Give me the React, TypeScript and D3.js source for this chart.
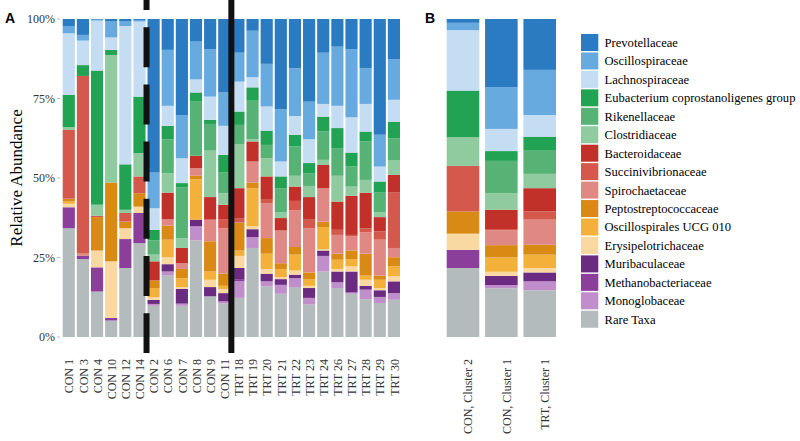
import React from "react";
import * as d3 from "d3";

const taxa = [
  "Prevotellaceae",
  "Oscillospiraceae",
  "Lachnospiraceae",
  "Eubacterium coprostanoligenes group",
  "Rikenellaceae",
  "Clostridiaceae",
  "Bacteroidaceae",
  "Succinivibrionaceae",
  "Spirochaetaceae",
  "Peptostreptococcaceae",
  "Oscillospirales UCG 010",
  "Erysipelotrichaceae",
  "Muribaculaceae",
  "Methanobacteriaceae",
  "Monoglobaceae",
  "Rare Taxa",
];

const taxaColors = [
  "#2A7BC1",
  "#67AADF",
  "#C4DDF3",
  "#22A353",
  "#57B276",
  "#8FCB9F",
  "#C1312A",
  "#D5584D",
  "#E08883",
  "#D98A14",
  "#F3B13B",
  "#FAD8A2",
  "#6A2B80",
  "#8B3F9A",
  "#C08FCB",
  "#B4BBBC",
];

const samplesA = [
  "CON 1", "CON 3", "CON 4", "CON 10", "CON 12", "CON 14",
  "CON 2", "CON 6", "CON 7", "CON 8", "CON 9", "CON 11",
  "TRT 18", "TRT 19", "TRT 20", "TRT 21", "TRT 22", "TRT 23",
  "TRT 24", "TRT 26", "TRT 27", "TRT 28", "TRT 29", "TRT 30",
];

// rows per sample, columns in taxa order (percent)
const abundanceA = [
  [2.2, 2.3, 19.4, 10.1, 0, 0.9, 0, 21.6, 0, 0.9, 0.7, 1.1, 0, 6.6, 0, 34.2],
  [5.0, 1.8, 7.7, 3.4, 0, 0, 0, 55.7, 0.9, 0, 0, 0, 0, 1.0, 0, 24.5],
  [0.2, 0.3, 15.7, 42.2, 0, 3.5, 0, 0.4, 0, 10.5, 0, 5.3, 0, 7.6, 0, 14.3],
  [0.8, 5.0, 3.9, 1.6, 0, 40.1, 0, 0, 0, 24.8, 0, 17.8, 0, 0.8, 0, 5.2],
  [0.8, 1.4, 43.5, 14.3, 0, 1.0, 0, 2.7, 0, 2.1, 0, 3.4, 0, 9.1, 0, 21.7],
  [0.3, 0.5, 23.6, 17.8, 0, 7.3, 0, 5.3, 0, 4.2, 0, 2.0, 0, 9.5, 0, 29.5],
  [48.3, 11.2, 6.8, 3.3, 4.5, 2.1, 6.0, 0, 0, 2.4, 2.9, 0.8, 1.3, 0, 0.6, 9.8],
  [9.7, 17.6, 6.3, 4.2, 10.7, 6.1, 8.3, 0, 2.1, 4.4, 5.5, 2.2, 2.3, 0, 1.3, 19.3],
  [30.2, 13.6, 7.8, 1.3, 16.0, 3.1, 4.8, 0, 1.8, 2.9, 2.8, 0.6, 4.6, 0, 0.7, 9.8],
  [7.1, 11.9, 4.1, 2.9, 17.0, 0, 3.9, 0, 2.4, 1.1, 12.7, 0, 2.1, 0, 4.4, 30.4],
  [9.5, 14.9, 7.3, 1.3, 8.4, 14.6, 7.1, 0, 6.8, 9.5, 2.6, 2.3, 2.9, 0, 0, 12.8],
  [23.1, 10.5, 9.1, 5.6, 6.5, 3.6, 4.7, 2.7, 14.3, 3.8, 1.0, 1.3, 2.6, 0, 0.7, 10.5],
  [10.6, 9.1, 9.4, 4.2, 6.0, 13.9, 9.4, 1.4, 0, 8.8, 1.7, 3.8, 3.5, 0.7, 5.2, 12.3],
  [3.7, 14.6, 3.2, 4.2, 12.1, 0.7, 6.3, 0, 6.6, 1.8, 12.0, 0.9, 2.5, 0, 3.4, 28.0],
  [14.1, 13.4, 7.6, 4.5, 4.2, 5.7, 7.1, 1.3, 11.0, 4.9, 4.8, 1.5, 2.4, 0, 1.6, 15.9],
  [28.4, 16.4, 4.7, 3.7, 7.6, 1.8, 3.9, 0, 10.3, 1.8, 2.6, 0.6, 1.8, 0, 2.8, 13.6],
  [15.5, 15.0, 5.9, 3.7, 9.2, 3.4, 4.5, 3.0, 11.5, 2.4, 5.0, 1.3, 1.1, 0, 2.8, 15.7],
  [26.0, 11.8, 7.5, 3.2, 4.0, 3.5, 7.1, 2.7, 13.9, 2.1, 2.1, 0.7, 3.1, 0, 2.1, 10.2],
  [10.6, 16.1, 4.0, 4.7, 8.9, 1.6, 7.3, 0, 10.5, 1.7, 7.0, 0.4, 1.7, 0, 4.9, 20.6],
  [8.7, 18.6, 7.0, 6.3, 8.7, 8.1, 8.9, 1.6, 5.9, 1.9, 2.9, 0.8, 3.4, 0, 1.8, 15.4],
  [9.5, 21.4, 11.1, 4.4, 6.3, 2.9, 12.3, 0.5, 4.4, 2.7, 2.3, 1.6, 6.6, 0, 0.4, 13.6],
  [15.5, 11.2, 8.7, 3.1, 12.1, 4.0, 11.2, 1.3, 6.7, 6.9, 1.3, 1.9, 1.2, 0, 3.0, 11.9],
  [36.4, 10.0, 4.7, 3.5, 6.2, 1.5, 4.5, 2.6, 11.3, 1.3, 2.6, 0.7, 2.1, 0, 1.9, 10.7],
  [12.7, 12.7, 6.9, 5.2, 7.0, 4.5, 5.6, 17.4, 2.9, 2.9, 3.1, 1.6, 3.7, 0, 2.1, 11.7],
];

const clustersB = ["CON, Cluster 2", "CON, Cluster 1", "TRT, Cluster 1"];

const abundanceB = [
  [1.2, 2.3, 19.0, 14.7, 0, 9.0, 0, 14.3, 0, 7.0, 0, 5.1, 0, 5.7, 0, 21.7],
  [21.5, 13.2, 7.0, 3.1, 10.2, 5.2, 6.1, 0.4, 4.7, 3.9, 4.5, 1.3, 2.9, 0, 1.0, 15.4],
  [16.0, 14.2, 6.8, 4.2, 7.5, 4.5, 7.3, 2.6, 7.9, 3.1, 4.2, 1.4, 2.8, 0, 2.8, 14.7],
];

const yTicks = [0, 0.25, 0.5, 0.75, 1];

const W = 800;
const H = 441;
const serif = "'Liberation Serif', 'Times New Roman', serif";
const sans = "'Liberation Sans', Arial, sans-serif";

const stackKeys = [...taxa].reverse();
const colorOf = d3.scaleOrdinal<string, string>().domain(taxa).range(taxaColors);

function toRows(names: string[], matrix: number[][]) {
  return names.map((name, i) => {
    const row: Record<string, any> = { name };
    taxa.forEach((t, j) => (row[t] = matrix[i][j]));
    return row;
  });
}

const stacker = d3
  .stack<Record<string, any>>()
  .keys(stackKeys)
  .offset(d3.stackOffsetExpand);

export default function App() {
  const y = d3.scaleLinear().domain([0, 1]).range([337, 19]);
  const xA = d3
    .scaleBand<string>()
    .domain(samplesA)
    .range([62.7, 400])
    .paddingInner(0.14)
    .paddingOuter(0);
  const xB = d3
    .scaleBand<string>()
    .domain(clustersB)
    .range([446.7, 556])
    .paddingInner(0.15)
    .paddingOuter(0);

  const seriesA = stacker(toRows(samplesA, abundanceA));
  const seriesB = stacker(toRows(clustersB, abundanceB));

  const stepA = xA.step();
  const gapA = stepA - xA.bandwidth();
  const dashX = (xA("CON 2") as number) - gapA / 2;
  const solidX = (xA("TRT 18") as number) - gapA / 2;

  const legendTop = 34;
  const legendStep = 18.45;

  return (
    <svg
      width={W}
      height={H}
      style={{ position: "absolute", left: 0, top: 0, background: "#fff" }}
    >
      {/* Panel A bars */}
      {seriesA.map((s) => (
        <g key={s.key} fill={colorOf(s.key)}>
          {s.map((d, i) =>
            d[1] - d[0] > 0 ? (
              <rect
                key={i}
                x={xA(samplesA[i])}
                width={xA.bandwidth()}
                y={y(d[1])}
                height={y(d[0]) - y(d[1])}
              />
            ) : null
          )}
        </g>
      ))}

      {/* Panel B bars */}
      {seriesB.map((s) => (
        <g key={s.key} fill={colorOf(s.key)}>
          {s.map((d, i) =>
            d[1] - d[0] > 0 ? (
              <rect
                key={i}
                x={xB(clustersB[i])}
                width={xB.bandwidth()}
                y={y(d[1])}
                height={y(d[0]) - y(d[1])}
              />
            ) : null
          )}
        </g>
      ))}

      {/* Y axis */}
      {yTicks.map((t) => (
        <g key={t}>
          <line x1={57} x2={60} y1={y(t)} y2={y(t)} stroke="#bbb" strokeWidth={1} />
          <text
            x={55}
            y={y(t)}
            dy="0.35em"
            textAnchor="end"
            fontFamily={serif}
            fontSize={12}
            fill="#333"
          >
            {d3.format(".0%")(t)}
          </text>
        </g>
      ))}
      <text
        transform={`translate(21.5,${(y(0) + y(1)) / 2}) rotate(-90)`}
        textAnchor="middle"
        fontFamily={serif}
        fontSize={17}
        fill="#000"
      >
        Relative Abundance
      </text>

      {/* X labels A */}
      {samplesA.map((s) => (
        <text
          key={s}
          transform={`translate(${(xA(s) as number) + xA.bandwidth() / 2 + 0.5},359) rotate(-90)`}
          dy="0.35em"
          textAnchor="end"
          fontFamily={serif}
          fontSize={12}
          fill="#333"
        >
          {s}
        </text>
      ))}

      {/* X labels B */}
      {clustersB.map((c) => (
        <text
          key={c}
          transform={`translate(${(xB(c) as number) + xB.bandwidth() / 2 + 5},359) rotate(-90)`}
          dy="0.35em"
          textAnchor="end"
          fontFamily={serif}
          fontSize={12}
          fill="#333"
        >
          {c}
        </text>
      ))}

      {/* Separator lines */}
      <line
        x1={dashX}
        x2={dashX}
        y1={0}
        y2={353}
        stroke="#111"
        strokeWidth={6}
        strokeDasharray="40 17.2"
        strokeDashoffset={30}
      />
      <line x1={solidX} x2={solidX} y1={0} y2={353} stroke="#111" strokeWidth={6} />

      {/* Panel letters */}
      <text x={5} y={23} fontFamily={sans} fontWeight="bold" fontSize={14} fill="#000">
        A
      </text>
      <text x={425} y={23} fontFamily={sans} fontWeight="bold" fontSize={14} fill="#000">
        B
      </text>

      {/* Legend */}
      {taxa.map((t, i) => (
        <g key={t} transform={`translate(581,${legendTop + i * legendStep})`}>
          <rect width={17.3} height={17} fill={colorOf(t)} />
          <text
            x={23.5}
            y={8.5}
            dy="0.35em"
            fontFamily={serif}
            fontSize={12.6}
            fill="#000"
          >
            {t}
          </text>
        </g>
      ))}
    </svg>
  );
}
